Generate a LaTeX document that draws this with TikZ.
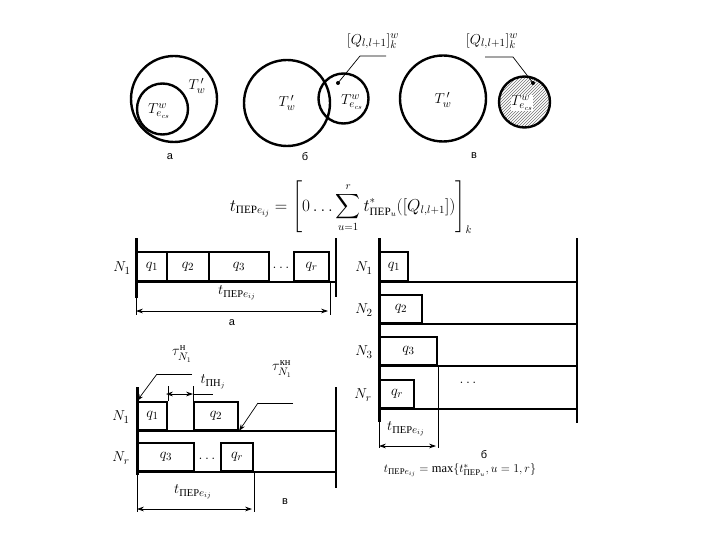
\documentclass[tikz,border=0pt]{standalone}
\usepackage{amsmath}
\usepackage{fontspec}
\setmainfont{Liberation Serif}
\newfontfamily\capfont{Liberation Sans}
\usetikzlibrary{positioning}
\usetikzlibrary{arrows.meta}
\usetikzlibrary{patterns}
\newcommand{\per}{\text{ПЕР}}
\newcommand{\pnj}{\text{ПН}}
\tikzset{
  % circles of the set pictures
  ring/.style={draw, line width=2.4pt},
  % a transfer interval on a time line
  bar/.style={draw, line width=2pt, anchor=south west, inner sep=0pt,
    font=\fontsize{15}{17}\selectfont, minimum height=#1},
  bar/.default=28pt,
  % time axes and lines
  axis/.style={line width=3pt},
  rail/.style={line width=2pt},
  ext/.style={line width=0.7pt},
  dim/.style={{Stealth[length=2.4mm, width=1.6mm]}-{Stealth[length=2.4mm, width=1.6mm]}, line width=0.7pt},
  lead/.style={-{Stealth[length=2.4mm, width=1.6mm]}, line width=0.7pt},
  lbl/.style={font=\fontsize{15}{17}\selectfont, inner sep=1pt},
  capt/.style={font=\capfont\fontsize{11}{13}\selectfont, inner sep=1pt},
}

\begin{document}
\begin{tikzpicture}[x=1pt, y=-1pt]
  \useasboundingbox (0,0) rectangle (720,540);

  % --- sets: a, b, v
  \coordinate (ca) at (174,99);
  \coordinate (ca2) at (162.5,109);
  \draw[ring] (ca) circle (43);
  \draw[ring] (ca2) circle (25.5);
  \node[lbl] (twa) at (197,86) {$T^{\,\prime}_{w}$};
  \node[lbl] (tea) at (159,111) {$T^{w}_{e_{cs}}$};
  \node[capt] (capa) at (170,157) {а};

  \coordinate (cb) at (287,103);
  \coordinate (cb2) at (343.5,98.5);
  \draw[ring] (cb) circle (43);
  \draw[ring] (cb2) circle (25);
  \node[lbl] (twb) at (287,103) {$T^{\,\prime}_{w}$};
  \node[lbl] (teb) at (352,102) {$T^{w}_{e_{cs}}$};
  \fill (338,83) circle (2) coordinate (dotb);
  \node[lbl] (qb) at (373,41) {$[Q_{l,l+1}]^{w}_{k}$};
  \coordinate (kb) at (360,56);
  \draw[ext] (dotb) -- (kb) -- (386,56);
  \node[capt] (capb) at (305,157) {б};

  \coordinate (cv) at (443,98.5);
  \coordinate (cv2) at (524.5,102);
  \draw[ring] (cv) circle (43);
  \fill[pattern=north east lines, pattern color=black!55] (cv2) circle (25.5);
  \draw[ring] (cv2) circle (25.5);
  \node[lbl] (twv) at (443,100) {$T^{\,\prime}_{w}$};
  \node[lbl, fill=white, inner sep=0.5pt] (tev) at (522,103) {$T^{w}_{e_{cs}}$};
  \fill (533,83) circle (2) coordinate (dotv);
  \node[lbl] (qv) at (492,41) {$[Q_{l,l+1}]^{w}_{k}$};
  \coordinate (kv) at (513,57);
  \draw[ext] (dotv) -- (kv) -- (485,57);
  \node[capt] (capv) at (474,156) {в};

  % --- transfer time
  \node[lbl, font=\fontsize{16}{18}\selectfont] (ftop) at (351,207)
    {$t_{\per e_{ij}}=\left[0\ldots\displaystyle\sum_{u=1}^{r}t^{*}_{\per_u}([Q_{l,l+1}])\right]_{k}$};

  % --- a: one line
  \draw[axis] (136,238) -- (136,298);
  \draw[ext] (136,298) -- (136,315);
  \draw[rail] (336,238) -- (336,297);
  \draw[rail] (136,282) -- (336,282);
  \node[bar=29pt, minimum width=30pt] (qa1) at (136,282) {$q_1$};
  \node[bar=29pt, minimum width=42pt] (qa2) at (166,282) {$q_2$};
  \node[bar=29pt, minimum width=60pt] (qa3) at (208,282) {$q_3$};
  \node[bar=29pt, minimum width=35pt] (qar) at (293,282) {$q_r$};
  \node[lbl] (dota) at (281,268) {$\ldots$};
  \node[lbl] (na1) at (122,268) {$N_1$};
  \draw[ext] (qar.south east) -- ++(0,33) coordinate (ea);
  \coordinate (da0) at (136,311);
  \coordinate (da1) at (328,311);
  \draw[dim] (da0) -- (da1);
  \node[lbl] (ta) at (237,293) {$t_{\per e_{ij}}$};
  \node[capt] (capa2) at (232,323) {а};

  % --- v: two lines
  \draw[axis] (137,387) -- (137,475);
  \draw[ext] (137,475) -- (137,512);
  \draw[rail] (336,387) -- (336,488);
  \draw[rail] (137,431) -- (336,431);
  \draw[rail] (137,472) -- (336,472);
  \node[bar, minimum width=29pt] (vq1) at (137,431) {$q_1$};
  \node[bar, minimum width=44pt] (vq2) at (193,431) {$q_2$};
  \node[bar, minimum width=56pt] (vq3) at (137,472) {$q_3$};
  \node[bar, minimum width=32pt] (vqr) at (220,472) {$q_r$};
  \node[lbl] (dotv2) at (207,459) {$\ldots$};
  \node[lbl] (nv1) at (121,417) {$N_1$};
  \node[lbl] (nvr) at (121,458) {$N_r$};
  \draw[ext] (vq1.north east) -- ++(0,-15) coordinate (e1);
  \draw[ext] (vq2.north west) -- ++(0,-15) coordinate (e2);
  \coordinate (dp0) at (166,394);
  \coordinate (dp1) at (193,394);
  \draw[dim] (dp0) -- (dp1);
  \draw[ext] (dp1) -- (213,394);
  \node[lbl] (tpn) at (213,382) {$t_{\pnj_j}$};
  \node[lbl] (tau1) at (182,354) {$\tau^{\text{н}}_{N_1}$};
  \coordinate (kt1) at (157,374);
  \draw[ext] (192,374) -- (kt1);
  \draw[lead] (kt1) -- (vq1.north west);
  \node[lbl] (tau2) at (282,369) {$\tau^{\text{кн}}_{N_1}$};
  \coordinate (kt2) at (258,403);
  \draw[ext] (293,403) -- (kt2);
  \draw[lead] (kt2) -- (vq2.south east);
  \draw[ext] (vqr.south east) -- ++(0,40);
  \coordinate (dv0) at (137,509);
  \coordinate (dv1) at (252,509);
  \draw[dim] (dv0) -- (dv1);
  \node[lbl] (tv) at (193,492) {$t_{\per e_{ij}}$};
  \node[capt] (capv2) at (285,502) {в};

  % --- b: parallel lines
  \draw[axis] (379,238) -- (379,422);
  \draw[ext] (379,422) -- (379,448);
  \draw[rail] (577,238) -- (577,423);
  \foreach \y in {282,324,366,409}
    \draw[rail] (379,\y) -- (577,\y);
  \node[bar=29pt, minimum width=28pt] (bq1) at (379,282) {$q_1$};
  \node[bar, minimum width=42pt] (bq2) at (379,324) {$q_2$};
  \node[bar, minimum width=57pt] (bq3) at (379,366) {$q_3$};
  \node[bar, minimum width=34pt] (bqr) at (379,409) {$q_r$};
  \node[lbl] (nb1) at (364,268) {$N_1$};
  \node[lbl] (nb2) at (364,310) {$N_2$};
  \node[lbl] (nb3) at (364,352) {$N_3$};
  \node[lbl] (nbr) at (363,395) {$N_r$};
  \node[lbl] (dotb2) at (468,383) {$\ldots$};
  \draw[ext] (bq3.south east) -- ++(0,82);
  \coordinate (db0) at (379,446);
  \coordinate (db1) at (436,446);
  \draw[dim] (db0) -- (db1);
  \node[lbl] (tb) at (406,429) {$t_{\per e_{ij}}$};
  \node[capt] (capb2) at (484,455) {б};
  \node[lbl, font=\fontsize{12.5}{14}\selectfont] (fbot) at (460,470)
    {$t_{\per e_{ij}}=\max\{t^{*}_{\per_u},u=1,r\}$};
\end{tikzpicture}
\end{document}
